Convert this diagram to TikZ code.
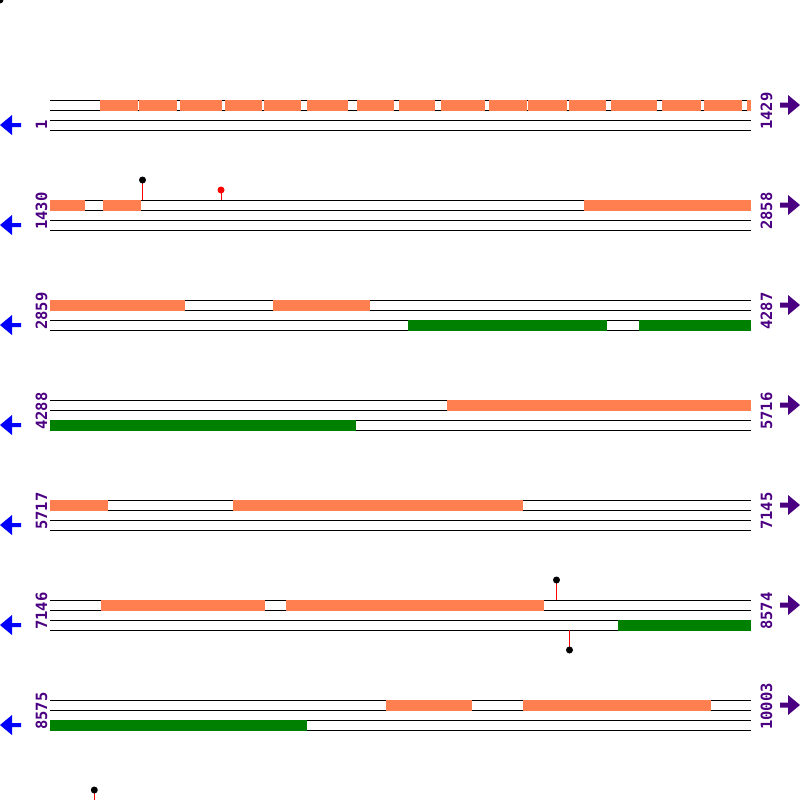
\documentclass[tikz,border=0pt]{standalone}
\usepackage{fontspec}
\setmonofont{DejaVu Sans Mono}
\usepackage{tikz}
\usetikzlibrary{positioning}
\definecolor{seqorange}{RGB}{255,127,80}
\definecolor{seqgreen}{RGB}{0,128,0}
\definecolor{seqpurple}{RGB}{75,0,130}
\definecolor{seqblue}{RGB}{0,0,255}
\tikzstyle{strand}=[draw, line width=1pt]
\tikzstyle{fwdbox}=[fill=seqorange]
\tikzstyle{revbox}=[fill=seqgreen]
\tikzstyle{poslabel}=[text=seqpurple, font=\ttfamily\bfseries\fontsize{15.5}{15.5}\selectfont, rotate=90, inner sep=0pt, anchor=base west]
\tikzstyle{stem}=[draw=red, line width=1pt]
\newcommand{\seqrow}[3]{%
  \foreach \k in {0,10,20,30} {\draw[strand] (50,#1+\k) -- (751,#1+\k);}
  \node[poslabel] (pos#2) at (47,#1+30) {#2};
  \node[poslabel] (pos#3) at (772,#1+30) {#3};
  \fill[seqblue] (0,#1+25) -- (12,#1+15) -- (12,#1+23) -- (21,#1+23) -- (21,#1+27) -- (12,#1+27) -- (12,#1+35) -- cycle;
  \fill[seqpurple] (800,#1+5) -- (788,#1-5) -- (788,#1+2.5) -- (780,#1+2.5) -- (780,#1+7.5) -- (788,#1+7.5) -- (788,#1+15) -- cycle;
}
\newcommand{\fwd}[3]{\fill[fwdbox] (#2,#1) rectangle (#3,#1+11);}
\newcommand{\rev}[3]{\fill[revbox] (#2,#1+20) rectangle (#3,#1+31);}
\newcommand{\lollipop}[5]{\draw[stem] (#1,#2) -- (#1,#3); \fill[#5] (#1,#4) circle (3.5);}

\begin{document}
\begin{tikzpicture}[x=1pt, y=-1pt]
\useasboundingbox (0,0) rectangle (800,800);
\seqrow{100}{1}{1429}
\seqrow{200}{1430}{2858}
\seqrow{300}{2859}{4287}
\seqrow{400}{4288}{5716}
\seqrow{500}{5717}{7145}
\seqrow{600}{7146}{8574}
\seqrow{700}{8575}{10003}
\foreach \a/\b in {100/138, 139.3/176.7, 180/222, 225/262, 264/300.7, 307/348, 357/394, 399/435, 441/485, 489/527, 528.3/566.7, 569/606, 611/657, 662/701, 704/742, 747/751}
  {\fwd{100}{\a}{\b}}
\fwd{200}{50}{85} \fwd{200}{103}{141} \fwd{200}{584}{751}
\fwd{300}{50}{185} \fwd{300}{273}{370}
\rev{300}{408}{607} \rev{300}{639}{751}
\fwd{400}{447}{751}
\rev{400}{50}{356}
\fwd{500}{50}{108} \fwd{500}{233}{523}
\fwd{600}{101}{265} \fwd{600}{286}{544}
\rev{600}{618}{751}
\fwd{700}{386}{472} \fwd{700}{523}{711}
\rev{700}{50}{307}
\lollipop{0}{-20}{0}{0}{black}
\lollipop{142.5}{180}{200}{180}{black}
\lollipop{221}{190}{200}{190}{red}
\lollipop{556.5}{580}{600}{580}{black}
\lollipop{569.5}{630}{650}{650}{black}
\lollipop{94.3}{790}{810}{790}{black}
\end{tikzpicture}
\end{document}
